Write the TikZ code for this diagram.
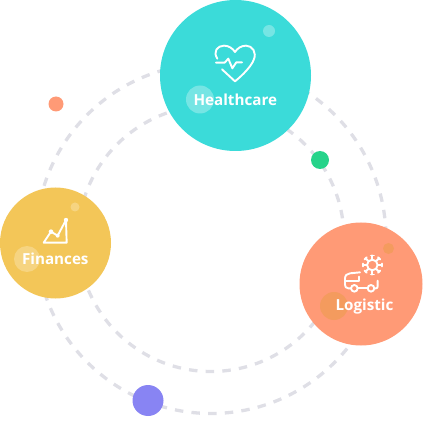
\documentclass[tikz,border=0pt]{standalone}
\usepackage{fontspec}
\usetikzlibrary{calc}
\setmainfont{Open Sans}
\definecolor{ring}{HTML}{DFDFE6}
\definecolor{teal}{HTML}{3BDBD9}
\definecolor{coral}{HTML}{FF9A76}
\definecolor{sun}{HTML}{F3C658}
\definecolor{mint}{HTML}{26D38A}
\definecolor{violet}{HTML}{8884F3}
\definecolor{amberdot}{HTML}{F49B5E}
\tikzset{
  orbit/.style={draw=ring,line width=3.3pt,dash pattern=on 8.5pt off 8.2pt,dash phase=13.15pt},
  disc/.style={circle,inner sep=0pt,outer sep=0pt,minimum size=#1},
  glyphthin/.style={draw=white,line width=1.9pt,line cap=round,line join=round},
  caption/.style={text=white,font=\fontsize{15.2}{17}\selectfont\bfseries,inner sep=0pt}
}
\begin{document}
\begin{tikzpicture}[x=1pt,y=-1pt]
\useasboundingbox (0,0) rectangle (423,422);
\coordinate (hub) at (211,238.5);
\draw[orbit] (hub) circle[radius=175pt];
\draw[orbit] (hub) circle[radius=133pt];
% main discs
\node[disc=151pt,fill=teal] (health) at (235.5,75.5) {};
\node[disc=123pt,fill=coral] (logi) at (361,284) {};
\node[disc=111pt,fill=sun] (fin) at (55.5,243) {};
% loose dots
\node[disc=15pt,fill=coral] (d1) at (56,104) {};
\node[disc=18pt,fill=mint] (d2) at (320,160) {};
\node[disc=31pt,fill=violet] (d3) at (148,400.5) {};
% decorations
\node[disc=28pt,fill=white,fill opacity=.3] (h1) at (200,99.5) {};
\node[disc=12pt,fill=white,fill opacity=.3] (h2) at (269,31) {};
\node[disc=28pt,fill=amberdot] (l1) at (334,306) {};
\node[disc=11pt,fill=amberdot] (l2) at (388.5,248.5) {};
\node[disc=26pt,fill=white,fill opacity=.25] (f1) at (27,259) {};
\node[disc=9pt,fill=white,fill opacity=.25] (f2) at (75,207) {};
% heart icon
\begin{scope}[shift={(160,0)},x=.3333pt,y=-.3333pt]
\draw[glyphthin] (172,176) .. controls (158,155) and (172,137) .. (192,137)
  .. controls (206,137) and (218,145) .. (225,156)
  .. controls (232,145) and (244,137) .. (258,137)
  .. controls (278,137) and (291,158) .. (281,180)
  .. controls (274,198) and (250,224) .. (225,244) -- (186,208);
\draw[glyphthin] (168,188) -- (194,188) -- (205,176) -- (217,205) -- (229,187) -- (246,187);
\end{scope}
% truck and gear icon
\begin{scope}[shift={(295,220)},x=.3333pt,y=-.3333pt]
\draw[glyphthin] (168,205) -- (160,205) .. controls (153,205) and (150,200) .. (150,194) -- (150,176)
  .. controls (150,166) and (156,161) .. (165,160) -- (195,157);
\draw[glyphthin] (150,184) -- (193,184) -- (193,170);
\draw[glyphthin] (188,205) -- (218,205);
\draw[glyphthin] (238,205) -- (243,205) .. controls (247,205) and (248,202) .. (248,198) -- (248,182);
\draw[glyphthin] (178,205) circle[radius=3.3pt];
\draw[glyphthin] (228,205) circle[radius=3.3pt];
\draw[glyphthin] (232,135) circle[radius=5.3pt];
\foreach \a in {0,45,...,315}{
  \draw[glyphthin] ($(232,135)+(\a:5.6pt)$) -- ($(232,135)+(\a:9.6pt)$);
  \draw[glyphthin] ($(232,135)+(\a-9:9.6pt)$) -- ($(232,135)+(\a+9:9.6pt)$);
}
\end{scope}
% chart icon
\begin{scope}[shift={(0,185)},x=.3333pt,y=-.3333pt]
\draw[glyphthin] (198,105) -- (200,173) -- (131,173) -- (153,140) -- (173,152) -- (198,105);
\fill[white] (153,140) circle[radius=2.3pt] (173,152) circle[radius=2pt] (198,105) circle[radius=2.2pt];
\end{scope}
% captions
\node[caption] (htext) at (235.3,100) {Healthcare};
\node[caption] (ltext) at (364.5,306.5) {Logistic};
\node[caption] (ftext) at (55.3,259) {Finances};
\end{tikzpicture}
\end{document}
